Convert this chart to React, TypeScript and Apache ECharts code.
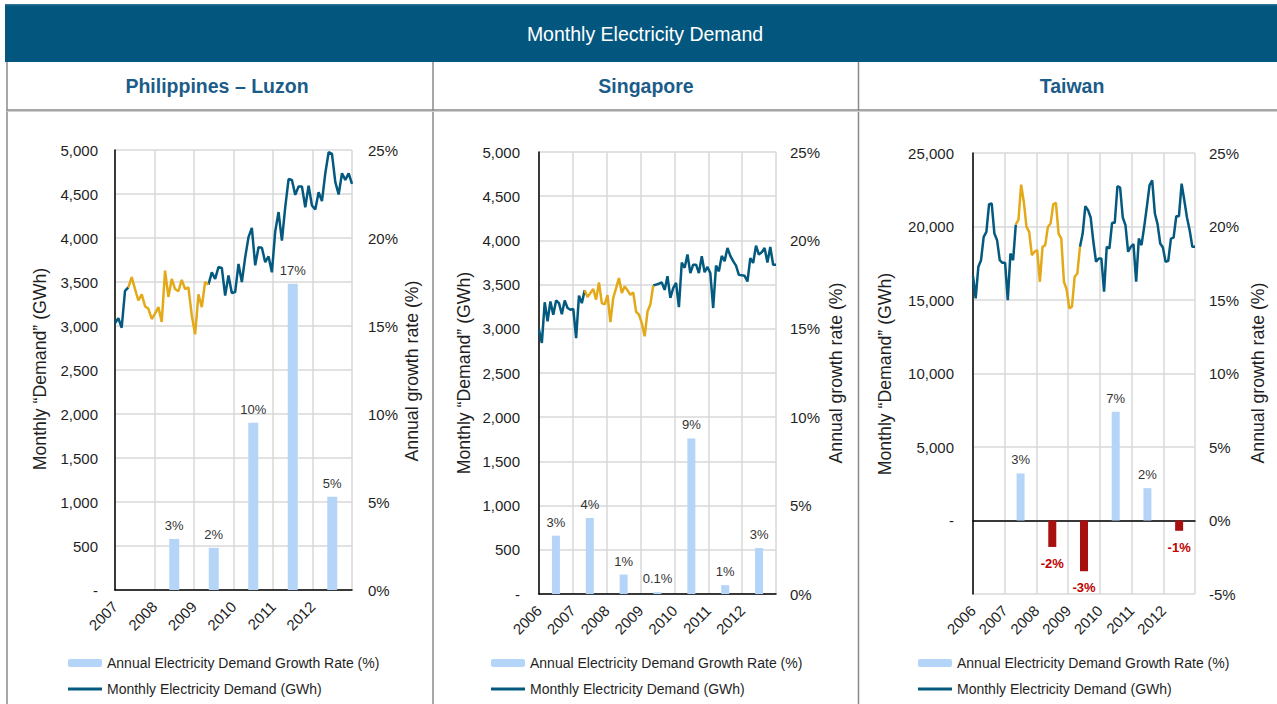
import React, { useEffect, useRef } from "react";
import * as echarts from "echarts";

const FONT = "'Liberation Sans', Arial, Helvetica, sans-serif";
const LINE_BLUE = "#04597F";
const LINE_GOLD = "#E4A919";
const BAR_BLUE = "#B4D5F8";
const BAR_RED = "#A80F0F";
const TEXT = "#1F1F1F";
const GRID = "#D9D9D9";

const GROWTH_NAME = "Annual Electricity Demand Growth Rate (%)";
const DEMAND_NAME = "Monthly Electricity Demand (GWh)";
const HIGHLIGHT_NAME = "Monthly Electricity Demand (GWh) – highlighted period";

// highlighted period: May 2007 – May 2009 (year, month index 0-11)
const HIGHLIGHT_FROM = [2007, 4];
const HIGHLIGHT_TO = [2009, 4];

// ---------- Philippines – Luzon ----------
const luzonYears = ["2007", "2008", "2009", "2010", "2011", "2012"];
const luzonMonthly = [
  3030, 3090, 2980, 3400, 3440, 3555, 3420, 3290, 3360, 3225, 3195, 3080,
  3140, 3215, 3045, 3630, 3330, 3535, 3420, 3395, 3525, 3420, 3440, 3120,
  2905, 3360, 3215, 3500, 3470, 3610, 3535, 3670, 3660, 3345, 3575, 3375,
  3385, 3705, 3500, 3780, 4010, 4115, 3690, 3895, 3890, 3725, 3790, 3610,
  4075, 4295, 3970, 4350, 4670, 4660, 4490, 4585, 4585, 4350, 4595, 4370,
  4325, 4520, 4420, 4735, 4975, 4955, 4635, 4495, 4735, 4660, 4735, 4615,
];
const luzonGrowth = [null, 2.9, 2.4, 9.5, 17.4, 5.3];
const luzonGrowthLabels = ["", "3%", "2%", "10%", "17%", "5%"];

// ---------- Singapore ----------
const sgYears = ["2006", "2007", "2008", "2009", "2010", "2011", "2012"];
const sgMonthly = [
  2990, 2840, 3300, 3085, 3310, 3160, 3320, 3290, 3165, 3320, 3235, 3215,
  3225, 2895, 3375, 3290, 3435, 3360, 3405, 3450, 3330, 3525, 3290, 3275,
  3380, 3075, 3350, 3460, 3575, 3405, 3480, 3435, 3385, 3410, 3195, 3160,
  3065, 2915, 3195, 3275, 3490, 3500, 3510, 3525, 3440, 3595, 3350, 3460,
  3520, 3245, 3750, 3690, 3840, 3630, 3725, 3725, 3630, 3820, 3640, 3700,
  3630, 3235, 3715, 3650, 3825, 3765, 3915, 3825, 3765, 3715, 3610, 3605,
  3600, 3535, 3800, 3745, 3940, 3840, 3865, 3915, 3750, 3925, 3725, 3725,
];
const sgGrowth = [3.3, 4.3, 1.1, 0.1, 8.8, 0.5, 2.6];
const sgGrowthLabels = ["3%", "4%", "1%", "0.1%", "9%", "1%", "3%"];

// ---------- Taiwan ----------
const twYears = ["2006", "2007", "2008", "2009", "2010", "2011", "2012"];
const twMonthly = [
  16620, 15110, 17260, 17710, 19300, 19630, 21510, 21560, 19520, 19070, 17710, 17530,
  17530, 14990, 18160, 17710, 20130, 20470, 22850, 21670, 19970, 19630, 18050, 18280,
  18390, 16240, 18620, 18730, 19970, 20200, 21510, 21600, 19520, 19180, 16240, 15720,
  14430, 14540, 16580, 16800, 18620, 19520, 21380, 21110, 20610, 18960, 17600, 17820,
  17820, 15560, 18620, 18500, 20250, 20250, 22740, 22650, 20610, 20090, 18280, 18620,
  18800, 16240, 19180, 18730, 19970, 21330, 22800, 23140, 20880, 20160, 18840, 18570,
  17600, 17670, 19180, 19250, 20700, 20700, 22920, 21790, 20610, 19750, 18620, 18620,
];
const twGrowth = [null, 3.2, -1.8, -3.45, 7.4, 2.2, -0.7];
const twGrowthLabels = ["", "3%", "-2%", "-3%", "7%", "2%", "-1%"];

type Panel = {
  title: string;
  years: string[];
  monthly: number[];
  growth: (number | null)[];
  growthLabels: string[];
  leftMin: number;
  leftMax: number;
  leftInterval: number;
  rightMin: number;
  rightMax: number;
};

const panels: Panel[] = [
  { title: "Philippines – Luzon", years: luzonYears, monthly: luzonMonthly, growth: luzonGrowth, growthLabels: luzonGrowthLabels, leftMin: 0, leftMax: 5000, leftInterval: 500, rightMin: 0, rightMax: 25 },
  { title: "Singapore", years: sgYears, monthly: sgMonthly, growth: sgGrowth, growthLabels: sgGrowthLabels, leftMin: 0, leftMax: 5000, leftInterval: 500, rightMin: 0, rightMax: 25 },
  { title: "Taiwan", years: twYears, monthly: twMonthly, growth: twGrowth, growthLabels: twGrowthLabels, leftMin: -5000, leftMax: 25000, leftInterval: 5000, rightMin: -5, rightMax: 25 },
];

// layout (pixels)
const layout = [
  { grid: { left: 115, top: 150, width: 237, height: 440 }, barWidth: 10, lMargin: 17, rMargin: 16, titleX: 217, leftTitle: [40, 369], rightTitle: [412, 371], legendLeft: 68 },
  { grid: { left: 539, top: 152, width: 237, height: 442 }, barWidth: 8, lMargin: 19, rMargin: 14, titleX: 646, leftTitle: [464, 373], rightTitle: [836, 373], legendLeft: 491 },
  { grid: { left: 973, top: 153, width: 222, height: 441 }, barWidth: 8, lMargin: 19, rMargin: 14, titleX: 1072, leftTitle: [885, 374], rightTitle: [1258, 373], legendLeft: 918 },
];

function buildOption() {
  const grid: any[] = [];
  const xAxis: any[] = [];
  const yAxis: any[] = [];
  const series: any[] = [];
  const legend: any[] = [];
  const graphic: any[] = [];

  // header
  graphic.push({ type: "rect", shape: { x: 5, y: 4, width: 1272, height: 58 }, style: { fill: "#03577F" } });
  graphic.push({ type: "rect", shape: { x: 5, y: 4, width: 1272, height: 1.5 }, style: { fill: "#2C7096" } });
  graphic.push({
    type: "text", x: 645, y: 34,
    style: { text: "Monthly Electricity Demand", fill: "#FFFFFF", font: `19.5px ${FONT}`, textAlign: "center", textVerticalAlign: "middle" },
  });
  // panel borders
  graphic.push({ type: "line", shape: { x1: 7, y1: 62, x2: 7, y2: 704 }, style: { stroke: "#8A8A8A", lineWidth: 1.5 } });
  graphic.push({ type: "line", shape: { x1: 433, y1: 62, x2: 433, y2: 704 }, style: { stroke: "#8A8A8A", lineWidth: 1.5 } });
  graphic.push({ type: "line", shape: { x1: 858.5, y1: 62, x2: 858.5, y2: 704 }, style: { stroke: "#8A8A8A", lineWidth: 1.5 } });
  graphic.push({ type: "line", shape: { x1: 7, y1: 110, x2: 1277, y2: 110 }, style: { stroke: "#8A8A8A", lineWidth: 1.5 } });
  graphic.push({ type: "line", shape: { x1: 7, y1: 111.5, x2: 1277, y2: 111.5 }, style: { stroke: "#D0D0D0", lineWidth: 1 } });

  panels.forEach((p, k) => {
    const L = layout[k];
    const n = p.monthly.length;
    const yrs = p.years.length;
    const step = (n - 1) / yrs;
    const startYear = Number(p.years[0]);
    const hiStart = (HIGHLIGHT_FROM[0] - startYear) * 12 + HIGHLIGHT_FROM[1];
    const hiEnd = (HIGHLIGHT_TO[0] - startYear) * 12 + HIGHLIGHT_TO[1];

    grid.push({ ...L.grid, containLabel: false });

    xAxis.push({
      type: "value", gridIndex: k, min: 0, max: n - 1, interval: step,
      axisLine: { show: true, onZero: true, lineStyle: { color: "#000", width: 1.5 } },
      axisTick: { show: false },
      splitLine: { show: true, lineStyle: { color: GRID, width: 1.5 } },
      axisLabel: {
        rotate: 45, fontSize: 15, color: TEXT, fontFamily: FONT, margin: 14,
        showMinLabel: true, showMaxLabel: true, hideOverlap: false,
        formatter: (v: number) => {
          const i = Math.round(v / step);
          return i < yrs ? p.years[i] : "";
        },
      },
    });
    xAxis.push({ type: "category", gridIndex: k, data: p.years, show: false, boundaryGap: true });

    yAxis.push({
      type: "value", gridIndex: k, position: "left",
      min: p.leftMin, max: p.leftMax, interval: p.leftInterval,
      axisLine: { show: true, lineStyle: { color: "#000", width: 1.5 } },
      axisTick: { show: false },
      splitLine: { show: true, lineStyle: { color: GRID, width: 1.5 } },
      axisLabel: {
        fontSize: 15, color: TEXT, fontFamily: FONT, margin: L.lMargin,
        formatter: (v: number) => (v === 0 ? "-" : v < 0 ? "" : v.toLocaleString("en-US")),
      },
    });
    yAxis.push({
      type: "value", gridIndex: k, position: "right",
      min: p.rightMin, max: p.rightMax, interval: 5,
      axisLine: { show: false }, axisTick: { show: false }, splitLine: { show: false },
      axisLabel: { fontSize: 15, color: TEXT, fontFamily: FONT, margin: L.rMargin, formatter: (v: number) => `${v}%` },
    });

    const xa = k * 2;
    const ya = k * 2;

    series.push({
      type: "bar", name: GROWTH_NAME, xAxisIndex: xa + 1, yAxisIndex: ya + 1,
      barWidth: L.barWidth,
      itemStyle: { color: BAR_BLUE },
      label: {
        show: true, position: "top", distance: 7, fontSize: 13, color: "#333", fontFamily: FONT,
        formatter: (prm: any) => p.growthLabels[prm.dataIndex],
      },
      data: p.growth.map((v) =>
        v === null
          ? "-"
          : v < 0
          ? { value: v, itemStyle: { color: BAR_RED }, label: { position: "bottom", distance: 10, color: "#C00000", fontWeight: "bold" } }
          : { value: v }
      ),
    });
    series.push({
      type: "line", name: DEMAND_NAME, xAxisIndex: xa, yAxisIndex: ya,
      symbol: "none", lineStyle: { color: LINE_BLUE, width: 2.5 }, itemStyle: { color: LINE_BLUE },
      data: p.monthly.map((v, i) => [i, i > hiStart && i < hiEnd ? "-" : v]),
    });
    series.push({
      type: "line", name: HIGHLIGHT_NAME, xAxisIndex: xa, yAxisIndex: ya,
      symbol: "none", lineStyle: { color: LINE_GOLD, width: 2.5 }, itemStyle: { color: LINE_GOLD },
      data: p.monthly.map((v, i) => [i, i >= hiStart && i <= hiEnd ? v : "-"]),
    });

    legend.push({
      data: [GROWTH_NAME], orient: "vertical", left: L.legendLeft, top: 655,
      itemWidth: 34, itemHeight: 8, selectedMode: false, padding: 0,
      textStyle: { fontSize: 14, color: TEXT, fontFamily: FONT, lineHeight: 16 },
    });
    legend.push({
      data: [{ name: DEMAND_NAME, icon: "rect" }], orient: "vertical", left: L.legendLeft, top: 681,
      itemWidth: 34, itemHeight: 3, selectedMode: false, padding: 0,
      textStyle: { fontSize: 14, color: TEXT, fontFamily: FONT, lineHeight: 16 },
    });

    // panel title
    graphic.push({
      type: "text", x: L.titleX, y: 86,
      style: { text: p.title, fill: "#1B5C89", font: `bold 19.5px ${FONT}`, textAlign: "center", textVerticalAlign: "middle" },
    });
    // axis titles
    graphic.push({
      type: "text", x: L.leftTitle[0], y: L.leftTitle[1], rotation: Math.PI / 2,
      style: { text: "Monthly “Demand” (GWh)", fill: TEXT, font: `17.7px ${FONT}`, textAlign: "center", textVerticalAlign: "middle" },
    });
    graphic.push({
      type: "text", x: L.rightTitle[0], y: L.rightTitle[1], rotation: Math.PI / 2,
      style: { text: "Annual growth rate (%)", fill: TEXT, font: `17.7px ${FONT}`, textAlign: "center", textVerticalAlign: "middle" },
    });
  });

  return {
    animation: false,
    backgroundColor: "#FFFFFF",
    textStyle: { fontFamily: FONT },
    grid, xAxis, yAxis, series, legend, graphic,
  };
}

export default function App() {
  const ref = useRef<HTMLDivElement>(null);
  useEffect(() => {
    if (!ref.current) return;
    const chart = echarts.init(ref.current, undefined, { renderer: "svg" });
    chart.setOption(buildOption() as any);
    return () => chart.dispose();
  }, []);
  return <div ref={ref} style={{ position: "fixed", left: 0, top: 0, width: 1277, height: 704, background: "#fff" }} />;
}
